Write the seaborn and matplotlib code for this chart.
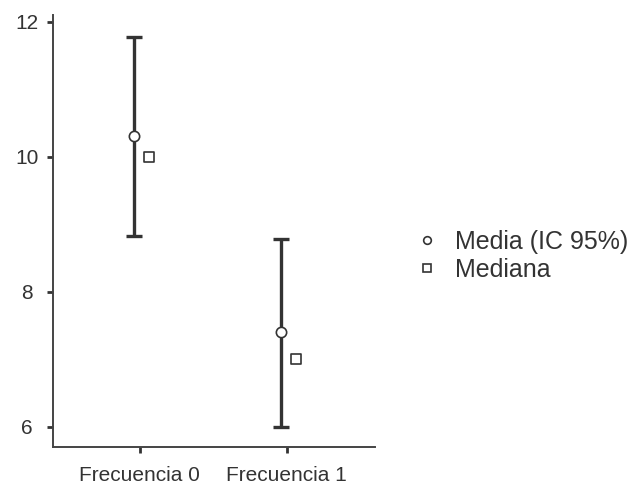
import matplotlib
matplotlib.use("Agg")
import matplotlib.pyplot as plt
from matplotlib.lines import Line2D
import seaborn as sns
import pandas as pd
import numpy as np

categories = ["Frecuencia 0", "Frecuencia 1"]
means = [10.30, 7.40]
ci_low = [8.83, 6.00]
ci_high = [11.78, 8.78]
medians = [10.0, 7.0]
y_ticks = [6, 8, 10, 12]
legend_labels = ["Media (IC 95%)", "Mediana"]

sns.set_theme(style="ticks")
plt.rcParams['font.family'] = ['Liberation Sans', 'DejaVu Sans']

ink = "#333333"
fig = plt.figure(figsize=(6.32, 4.86), dpi=100)
ax = fig.add_axes([53/632, 1-447/486, (375-53)/632, (447-15)/486])

df = pd.DataFrame({"cat": categories, "mean": means, "lo": ci_low,
                   "hi": ci_high, "median": medians})
pos = np.arange(len(categories))

ax.errorbar(pos - 0.04, df["mean"],
            yerr=[df["mean"] - df["lo"], df["hi"] - df["mean"]],
            fmt="none", ecolor=ink, elinewidth=2.4, capsize=5.8, capthick=2.4, zorder=2)
sns.scatterplot(x=pos - 0.04, y=df["mean"], marker="o", s=55, color="white",
                edgecolor=ink, linewidth=1.2, ax=ax, zorder=3, legend=False)
sns.scatterplot(x=pos + 0.06, y=df["median"], marker="s", s=60, color="white",
                edgecolor=ink, linewidth=1.2, ax=ax, zorder=3, legend=False)

ax.set_xlim(-0.59, 1.6)
ax.set_ylim(5.70, 12.1)
ax.set_xticks(pos)
ax.set_xticklabels(categories)
ax.set_yticks(y_ticks)
ax.set_yticklabels([str(t) for t in y_ticks], ha="center")
ax.tick_params(axis="both", colors=ink, labelcolor=ink, labelsize=15, width=2.0,
               length=4.5)
ax.tick_params(axis="x", pad=9.5)
ax.tick_params(axis="y", pad=14.2)
for side in ["top", "right"]:
    ax.spines[side].set_visible(False)
for side in ["left", "bottom"]:
    ax.spines[side].set_color("#444444")
    ax.spines[side].set_linewidth(1.4)
ax.set_xlabel("")
ax.set_ylabel("")
ax.set_facecolor("white")
fig.patch.set_facecolor("white")

handles = [
    Line2D([], [], marker="o", linestyle="none", markersize=5.5, markerfacecolor="white",
           markeredgecolor=ink, markeredgewidth=1.2),
    Line2D([], [], marker="s", linestyle="none", markersize=5.5, markerfacecolor="white",
           markeredgecolor=ink, markeredgewidth=1.2),
]
fig.legend(handles, legend_labels, loc="center left", bbox_to_anchor=(399/632, 1-256/486),
           frameon=False, fontsize=18, handlelength=0.8, handletextpad=0.74,
           labelspacing=0.15, labelcolor=ink, borderpad=0.2)

fig.savefig("out.png", dpi=100)
